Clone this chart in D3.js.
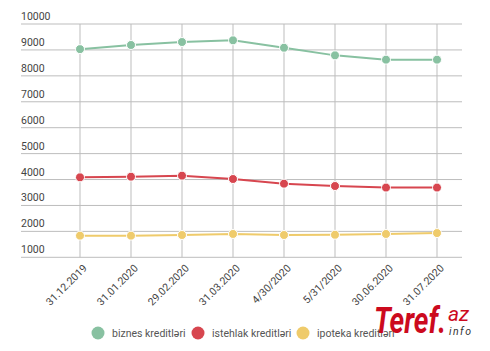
<!DOCTYPE html>
<html>
<head>
<meta charset="utf-8">
<script src="https://cdn.jsdelivr.net/npm/d3@7"></script>
<style>
  body { margin: 0; background: #fff; }
  text { font-family: Roboto, "Noto Sans", sans-serif; }
</style>
</head>
<body>
<div id="chart"></div>
<script>
// Data
const dates = ['31.12.2019', '31.01.2020', '29.02.2020', '31.03.2020', '4/30/2020', '5/31/2020', '30.06.2020', '31.07.2020'];
const seriesNames = ['biznes kreditləri', 'istehlak kreditləri', 'ipoteka kreditləri'];
const biznes = [9030, 9190, 9305, 9370, 9085, 8790, 8625, 8625];
const istehlak = [4085, 4110, 4150, 4020, 3840, 3750, 3690, 3690];
const ipoteka = [1835, 1835, 1860, 1900, 1860, 1870, 1900, 1935];
const yTicks = [1000, 2000, 3000, 4000, 5000, 6000, 7000, 8000, 9000, 10000];

const colors = ['#88c1a1', '#d7464f', '#efcb6b'];
const series = [biznes, istehlak, ipoteka].map((values, i) => ({ name: seriesNames[i], values, color: colors[i] }));

const W = 490, H = 351;
const svg = d3.select('#chart').append('svg')
  .attr('width', W)
  .attr('height', H);

const x = d3.scalePoint()
  .domain(dates)
  .range([80, 437]);

const y = d3.scaleLinear()
  .domain([1000, 10000])
  .range([257.3, 24]);

// horizontal grid + labels
const grid = svg.append('g');
grid.selectAll('line.h')
  .data(yTicks)
  .enter().append('line')
  .attr('x1', 21).attr('x2', 462)
  .attr('y1', d => y(d)).attr('y2', d => y(d))
  .attr('stroke', '#bdbdbd').attr('stroke-width', 1);

grid.selectAll('text.yl')
  .data(yTicks)
  .enter().append('text')
  .attr('x', 21)
  .attr('y', d => y(d) - 4)
  .attr('font-size', 10.5)
  .attr('fill', '#444')
  .text(d => d);

// vertical grid
grid.selectAll('line.v')
  .data(dates)
  .enter().append('line')
  .attr('x1', d => x(d)).attr('x2', d => x(d))
  .attr('y1', y(10000)).attr('y2', y(1000))
  .attr('stroke', '#bdbdbd').attr('stroke-width', 1);

// x labels
svg.append('g').selectAll('text')
  .data(dates)
  .enter().append('text')
  .attr('transform', d => `translate(${x(d) + 5},${y(1000) + 9}) rotate(-45)`)
  .attr('text-anchor', 'end')
  .attr('dy', '0.35em')
  .attr('font-size', 10.5)
  .attr('fill', '#444')
  .text(d => d);

// lines and points
const line = d3.line()
  .x((d, i) => x(dates[i]))
  .y(d => y(d));

series.forEach(s => {
  svg.append('path')
    .datum(s.values)
    .attr('fill', 'none')
    .attr('stroke', s.color)
    .attr('stroke-width', 2)
    .attr('d', line);

  svg.append('g').selectAll('circle')
    .data(s.values)
    .enter().append('circle')
    .attr('cx', (d, i) => x(dates[i]))
    .attr('cy', d => y(d))
    .attr('r', 4.5)
    .attr('fill', s.color)
    .attr('stroke', '#fff')
    .attr('stroke-width', 1);
});

// legend
const legendX = [98, 198, 303];
const legend = svg.append('g').selectAll('g')
  .data(series)
  .enter().append('g')
  .attr('transform', (d, i) => `translate(${legendX[i]},333)`);

legend.append('circle')
  .attr('r', 6.5)
  .attr('fill', d => d.color);

legend.append('text')
  .attr('x', 14)
  .attr('dy', '0.35em')
  .attr('font-size', 10.5)
  .attr('fill', '#555')
  .text(d => d.name);

// watermark
const wm = svg.append('g');
wm.append('text')
  .attr('x', 374).attr('y', 333)
  .attr('font-family', '"Liberation Sans Narrow", "Liberation Sans", Arial, sans-serif')
  .attr('font-weight', 'bold')
  .attr('font-style', 'italic')
  .attr('font-size', 37)
  .attr('fill', '#cc0a1e')
  .attr('textLength', 72)
  .attr('lengthAdjust', 'spacingAndGlyphs')
  .text('Teref.');
wm.append('text')
  .attr('x', 448).attr('y', 321)
  .attr('font-family', '"Liberation Sans", Arial, sans-serif')
  .attr('font-style', 'italic')
  .attr('font-size', 21)
  .attr('fill', '#cc0a1e')
  .text('az');
wm.append('text')
  .attr('x', 449).attr('y', 335)
  .attr('font-family', '"Liberation Sans", Arial, sans-serif')
  .attr('font-style', 'italic')
  .attr('font-size', 10.5)
  .attr('letter-spacing', 1.5)
  .attr('fill', '#333')
  .text('info');
</script>
</body>
</html>
